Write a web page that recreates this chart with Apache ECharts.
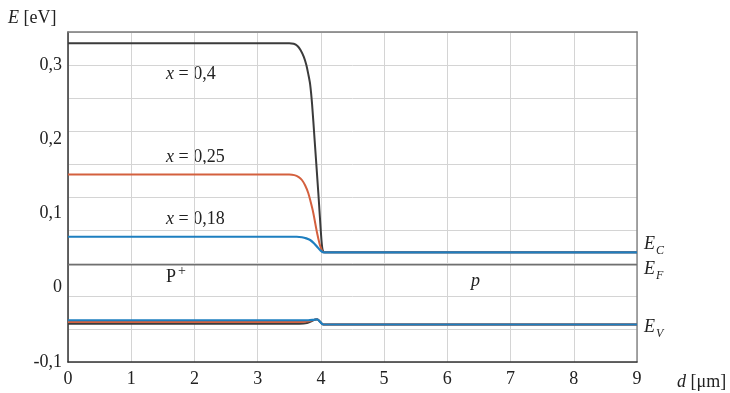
<!DOCTYPE html>
<html>
<head>
<meta charset="utf-8">
<script src="https://cdn.jsdelivr.net/npm/echarts@6/dist/echarts.min.js"></script>
<style>
html,body{margin:0;padding:0;background:#fff;}
#chart{width:730px;height:393px;}
</style>
</head>
<body>
<div id="chart"></div>
<script>
// ---- data (d in µm, E in eV) ----
const xTicks = [0, 1, 2, 3, 4, 5, 6, 7, 8, 9];
const yTicks = [-0.1, 0, 0.1, 0.2, 0.3];

const ecX040 = [[0,0.3292],[3.50,0.3292],[3.57,0.3286],[3.63,0.3257],[3.68,0.3200],[3.73,0.3110],[3.77,0.3000],[3.80,0.2880],[3.83,0.2740],[3.86,0.2480],[3.90,0.2000],[3.96,0.1270],[4.01,0.0630],[4.03,0.0500],[4.06,0.0477],[9,0.0477]];
const ecX025 = [[0,0.1525],[3.50,0.1525],[3.58,0.1517],[3.65,0.1490],[3.70,0.1451],[3.75,0.1380],[3.80,0.1276],[3.84,0.1150],[3.88,0.1007],[3.94,0.0737],[3.98,0.0590],[4.01,0.0515],[4.04,0.0477],[9,0.0477]];
const ecX018 = [[0,0.0687],[3.62,0.0687],[3.70,0.0680],[3.77,0.0665],[3.83,0.0643],[3.89,0.0600],[3.94,0.0553],[3.99,0.0505],[4.04,0.0477],[9,0.0477]];

const evX040 = [[0,-0.0486],[3.66,-0.0486],[3.78,-0.0476],[3.88,-0.0438],[3.94,-0.0425],[4.04,-0.0495],[9,-0.0495]];
const evX025 = [[0,-0.0461],[3.70,-0.0461],[3.80,-0.0452],[3.88,-0.0434],[3.94,-0.0425],[4.04,-0.0495],[9,-0.0495]];
const evX018 = [[0,-0.0438],[3.80,-0.0438],[3.88,-0.0432],[3.94,-0.0425],[4.04,-0.0495],[9,-0.0495]];

const eFermi = [[0,0.031],[9,0.031]];

const yMin = -0.1, yMax = 0.34444;   // energy axis range
const gridSteps = 10;                // horizontal grid lines

const FONT = '"Liberation Serif", "Times New Roman", serif';
const FS = 18;
const C_BLACK = '#3b3b3b', C_ORANGE = '#d4603e', C_BLUE = '#1e7fc0';

function line(data, color, width, z, smooth) {
  return {
    type: 'line', data: data, xAxisIndex: 0, yAxisIndex: 0,
    showSymbol: false, symbol: 'none', smooth: smooth,
    lineStyle: {color: color, width: width}, z: z, silent: true
  };
}

function txt(text, x, y, size, italic, rich) {
  return {
    type: 'text', x: x, y: y, silent: true,
    style: {
      text: text, fill: '#222', fontFamily: FONT, fontSize: size,
      fontStyle: italic ? 'italic' : 'normal',
      textAlign: 'left', align: 'left',
      textVerticalAlign: 'middle', verticalAlign: 'middle',
      rich: rich || undefined
    }
  };
}
const RICH = {
  i: {fontFamily: FONT, fontSize: FS, fontStyle: 'italic', fill: '#222'},
  n: {fontFamily: FONT, fontSize: FS, fontStyle: 'normal', fill: '#222'}
};

const chart = echarts.init(document.getElementById('chart'), null, {renderer: 'canvas'});
chart.setOption({
  animation: false,
  backgroundColor: '#fff',
  grid: {left: 68, right: 93, top: 32, bottom: 31, containLabel: false},
  xAxis: [{
    type: 'value', min: 0, max: 9, interval: 1, position: 'bottom',
    axisLine: {show: true, onZero: false, lineStyle: {color: '#333', width: 1.5}},
    axisTick: {show: false},
    axisLabel: {margin: 8, color: '#222', fontFamily: FONT, fontSize: FS,
      formatter: v => xTicks.indexOf(v) >= 0 ? String(v) : ''},
    splitLine: {show: true, lineStyle: {color: '#d4d4d4', width: 1}}
  }, {
    type: 'value', min: 0, max: 9, position: 'top',
    axisLine: {show: true, onZero: false, lineStyle: {color: '#7a7a7a', width: 1.5}},
    axisTick: {show: false}, axisLabel: {show: false}, splitLine: {show: false}
  }],
  yAxis: [{
    type: 'value', min: yMin, max: yMax, interval: 0.1, position: 'left',
    axisLine: {show: true, onZero: false, lineStyle: {color: '#333', width: 1.5}},
    axisTick: {show: false},
    axisLabel: {margin: 6, color: '#222', fontFamily: FONT, fontSize: FS, showMaxLabel: false,
      formatter: function (v) {
        const r = Math.round(v * 10) / 10;
        if (Math.abs(v - r) > 1e-6 || yTicks.indexOf(r) < 0) return '';
        return r === 0 ? '0' : r.toFixed(1).replace('.', ',');
      }},
    splitLine: {show: false}
  }, {
    type: 'value', min: 0, max: gridSteps, interval: 1, position: 'right',
    axisLine: {show: true, onZero: false, lineStyle: {color: '#8a8a8a', width: 1.5}},
    axisTick: {show: false}, axisLabel: {show: false},
    splitLine: {show: true, lineStyle: {color: '#d4d4d4', width: 1}}
  }],
  series: [
    line(eFermi, '#707070', 1.5, 2, false),
    line(evX040, C_BLACK, 2, 3, 0.3),
    line(evX025, C_ORANGE, 2, 4, 0.3),
    line(evX018, C_BLUE, 2.2, 5, 0.3),
    line(ecX040, C_BLACK, 2, 3, 0.3),
    line(ecX025, C_ORANGE, 2, 4, 0.3),
    line(ecX018, C_BLUE, 2.2, 5, 0.3)
  ],
  graphic: [
    txt('{i|E}{n| [eV]}', 8, 18, FS, false, RICH),
    txt('{i|d}{n| [μm]}', 677, 382, FS, false, RICH),
    txt('{i|x}{n| = 0,4}', 166, 74, FS, false, RICH),
    txt('{i|x}{n| = 0,25}', 166, 157, FS, false, RICH),
    txt('{i|x}{n| = 0,18}', 166, 219, FS, false, RICH),
    txt('P', 166, 277, FS, false),
    txt('+', 178, 271, 14, false),
    txt('p', 471, 281, FS, true),
    txt('E', 644, 244, FS, true),
    txt('C', 656, 251, 12, true),
    txt('E', 644, 269, FS, true),
    txt('F', 656, 276, 12, true),
    txt('E', 644, 327, FS, true),
    txt('V', 656, 334, 12, true)
  ]
});
</script>
</body>
</html>
